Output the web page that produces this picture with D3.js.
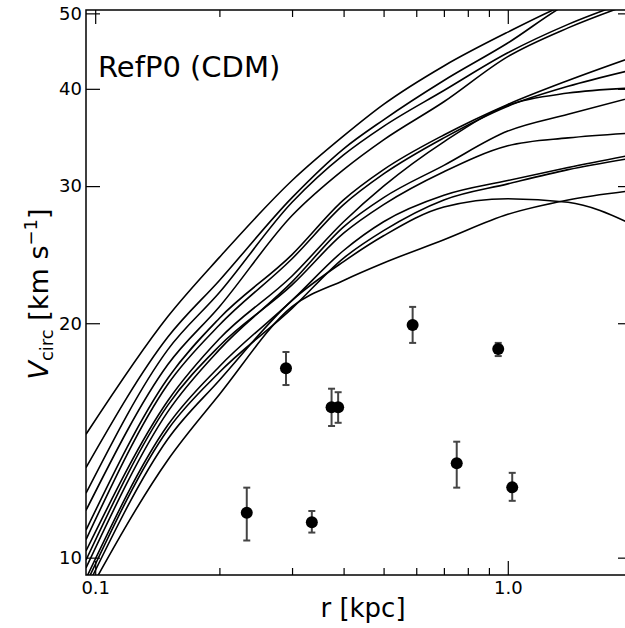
<!DOCTYPE html>
<html>
<head>
<meta charset="utf-8">
<script src="https://cdn.jsdelivr.net/npm/d3@7"></script>
<style>
  body { margin: 0; background: #fff; }
  text { font-family: "DejaVu Sans", sans-serif; fill: #000; }
</style>
</head>
<body>
<svg id="chart" width="625" height="628"></svg>
<script>
var radii = [0.095, 0.15, 0.2, 0.3, 0.4, 0.5, 0.7, 1.0, 1.4, 2.0];

// circular velocity curves, km/s
var curveA1 = [14.4, 20.4, 24.3, 30.5, 34.8, 38.2, 42.8, 47.3, 51.5, 55.0];
var curveA2 = [13.05, 19.2, 22.7, 29.0, 33.5, 36.5, 41.0, 45.8, 51.5, 55.5];
var curveA3 = [12.1, 18.5, 21.9, 28.6, 32.9, 35.8, 39.8, 44.5, 48.4, 52.0];
var curveA4 = [11.5, 17.7, 21.0, 27.5, 31.5, 34.4, 38.5, 44.0, 47.9, 51.5];
var curveR1 = [10.85, 17.0, 20.3, 24.5, 28.8, 31.5, 34.9, 38.2, 41.0, 43.9];
var curveR2 = [10.55, 16.7, 19.9, 24.2, 28.4, 31.1, 34.6, 38.0, 40.3, 42.3];
var curveR3 = [10.2, 15.9, 19.1, 23.0, 27.0, 30.0, 34.2, 38.1, 39.5, 40.1];
var curveR4 = [9.7, 15.4, 18.5, 22.6, 26.6, 29.0, 31.9, 35.3, 37.1, 39.0];
var curveR5 = [9.93, 15.7, 18.7, 22.4, 26.1, 28.4, 31.3, 33.8, 34.6, 35.1];
var curveR6 = [9.4, 14.8, 17.6, 21.4, 24.8, 27.0, 29.2, 30.5, 31.7, 32.9];
var curveR7 = [9.25, 14.6, 17.3, 20.9, 24.25, 26.3, 28.8, 30.2, 31.5, 32.6];
var curveR8 = [8.9, 13.35, 16.2, 21.0, 22.7, 23.9, 25.6, 27.6, 28.8, 29.6];
var curveR9 = [9.1, 14.2, 16.9, 21.4, 24.0, 25.9, 28.2, 28.9, 28.6, 26.8];

var curves = [curveA1, curveA2, curveA3, curveA4, curveR1, curveR2, curveR3,
              curveR4, curveR5, curveR6, curveR7, curveR8, curveR9];

// observed galaxies: radius, velocity and error bar ends
var obsR  = [0.233, 0.290, 0.335, 0.374, 0.388, 0.588, 0.752, 0.948, 1.025];
var obsV  = [11.42, 17.51, 11.10, 15.60, 15.60, 19.90, 13.22, 18.53, 12.31];
var obsLo = [10.52, 16.66, 10.77, 14.76, 14.90, 18.87, 12.30, 18.15, 11.83];
var obsHi = [12.30, 18.37, 11.48, 16.48, 16.31, 20.99, 14.09, 18.87, 12.85];

var xMajor = [0.1, 1.0];
var xMinor = [0.2, 0.3, 0.4, 0.5, 0.6, 0.7, 0.8, 0.9, 2.0];
var yTicks = [10, 20, 30, 40, 50];

var plotL = 86, plotR = 632, plotT = 10, plotB = 575;

var svg = d3.select('#chart');

var x = d3.scaleLog()
	.domain([0.095, 2.0])
	.range([plotL, plotR]);

var y = d3.scaleLog()
	.domain([9.5, 50.5])
	.range([plotB, plotT]);

svg.append('clipPath')
	.attr('id', 'plotclip')
	.append('rect')
	.attr('x', plotL).attr('y', plotT)
	.attr('width', plotR - plotL).attr('height', plotB - plotT);

// model curves
var line = d3.line()
	.x(function(d) { return x(d[0]); })
	.y(function(d) { return y(d[1]); })
	.curve(d3.curveMonotoneX);

svg.append('g')
	.attr('clip-path', 'url(#plotclip)')
	.selectAll('path')
	.data(curves)
	.enter().append('path')
	.attr('d', function(c) { return line(c.map(function(v, i) { return [radii[i], v]; })); })
	.attr('fill', 'none')
	.attr('stroke', '#000')
	.attr('stroke-width', 1.6);

// observations with error bars
var obs = obsR.map(function(r, i) { return {r: r, v: obsV[i], lo: obsLo[i], hi: obsHi[i]}; });

var eb = svg.append('g').attr('stroke', '#444').attr('stroke-width', 2);
eb.selectAll('line.bar').data(obs).enter().append('line')
	.attr('x1', function(d) { return x(d.r); }).attr('x2', function(d) { return x(d.r); })
	.attr('y1', function(d) { return y(d.lo); }).attr('y2', function(d) { return y(d.hi); });
eb.selectAll('line.capLo').data(obs).enter().append('line')
	.attr('x1', function(d) { return x(d.r) - 3.5; }).attr('x2', function(d) { return x(d.r) + 3.5; })
	.attr('y1', function(d) { return y(d.lo); }).attr('y2', function(d) { return y(d.lo); });
eb.selectAll('line.capHi').data(obs).enter().append('line')
	.attr('x1', function(d) { return x(d.r) - 3.5; }).attr('x2', function(d) { return x(d.r) + 3.5; })
	.attr('y1', function(d) { return y(d.hi); }).attr('y2', function(d) { return y(d.hi); });

svg.append('g').selectAll('circle').data(obs).enter().append('circle')
	.attr('cx', function(d) { return x(d.r); })
	.attr('cy', function(d) { return y(d.v); })
	.attr('r', 6)
	.attr('fill', '#000');

// axes, ticks pointing inward on all sides
function styleAxis(g) {
	g.attr('font-size', 18).attr('font-family', 'DejaVu Sans');
	g.select('.domain').remove();
	g.selectAll('.tick line').attr('stroke', '#000').attr('stroke-width', 1.2);
	g.selectAll('.tick text').attr('fill', '#000');
}

svg.append('g').attr('transform', 'translate(0,' + plotB + ')')
	.call(d3.axisBottom(x).tickValues(xMajor).tickSize(-14).tickPadding(6)
		.tickFormat(d3.format('.1f')))
	.call(styleAxis);
svg.append('g').attr('transform', 'translate(0,' + plotB + ')')
	.call(d3.axisBottom(x).tickValues(xMinor).tickSize(-7).tickFormat(''))
	.call(styleAxis);
svg.append('g').attr('transform', 'translate(0,' + plotT + ')')
	.call(d3.axisTop(x).tickValues(xMajor).tickSize(-14).tickFormat(''))
	.call(styleAxis);
svg.append('g').attr('transform', 'translate(0,' + plotT + ')')
	.call(d3.axisTop(x).tickValues(xMinor).tickSize(-7).tickFormat(''))
	.call(styleAxis);
svg.append('g').attr('transform', 'translate(' + plotL + ',0)')
	.call(d3.axisLeft(y).tickValues(yTicks).tickSize(-14).tickPadding(4)
		.tickFormat(d3.format('d')))
	.call(styleAxis);
svg.append('g').attr('transform', 'translate(' + plotR + ',0)')
	.call(d3.axisRight(y).tickValues(yTicks).tickSize(-14).tickFormat(''))
	.call(styleAxis);

svg.append('rect')
	.attr('x', plotL).attr('y', plotT)
	.attr('width', plotR - plotL).attr('height', plotB - plotT)
	.attr('fill', 'none')
	.attr('stroke', '#000')
	.attr('stroke-width', 1.5);

// labels
svg.append('text')
	.attr('x', 98).attr('y', 77)
	.attr('font-size', 29)
	.text('RefP0 (CDM)');

svg.append('text')
	.attr('x', 363).attr('y', 617)
	.attr('text-anchor', 'middle')
	.attr('font-size', 26)
	.text('r [kpc]');

var yl = svg.append('text')
	.attr('transform', 'translate(48,294) rotate(-90)')
	.attr('text-anchor', 'middle')
	.attr('font-size', 27);
yl.append('tspan').attr('font-style', 'italic').text('V');
yl.append('tspan').attr('font-size', 18).attr('dy', 5).text('circ');
yl.append('tspan').attr('dy', -5).text(' [km s');
yl.append('tspan').attr('font-size', 18).attr('dy', -11).text('\u22121');
yl.append('tspan').attr('dy', 11).text(']');
</script>
</body>
</html>
